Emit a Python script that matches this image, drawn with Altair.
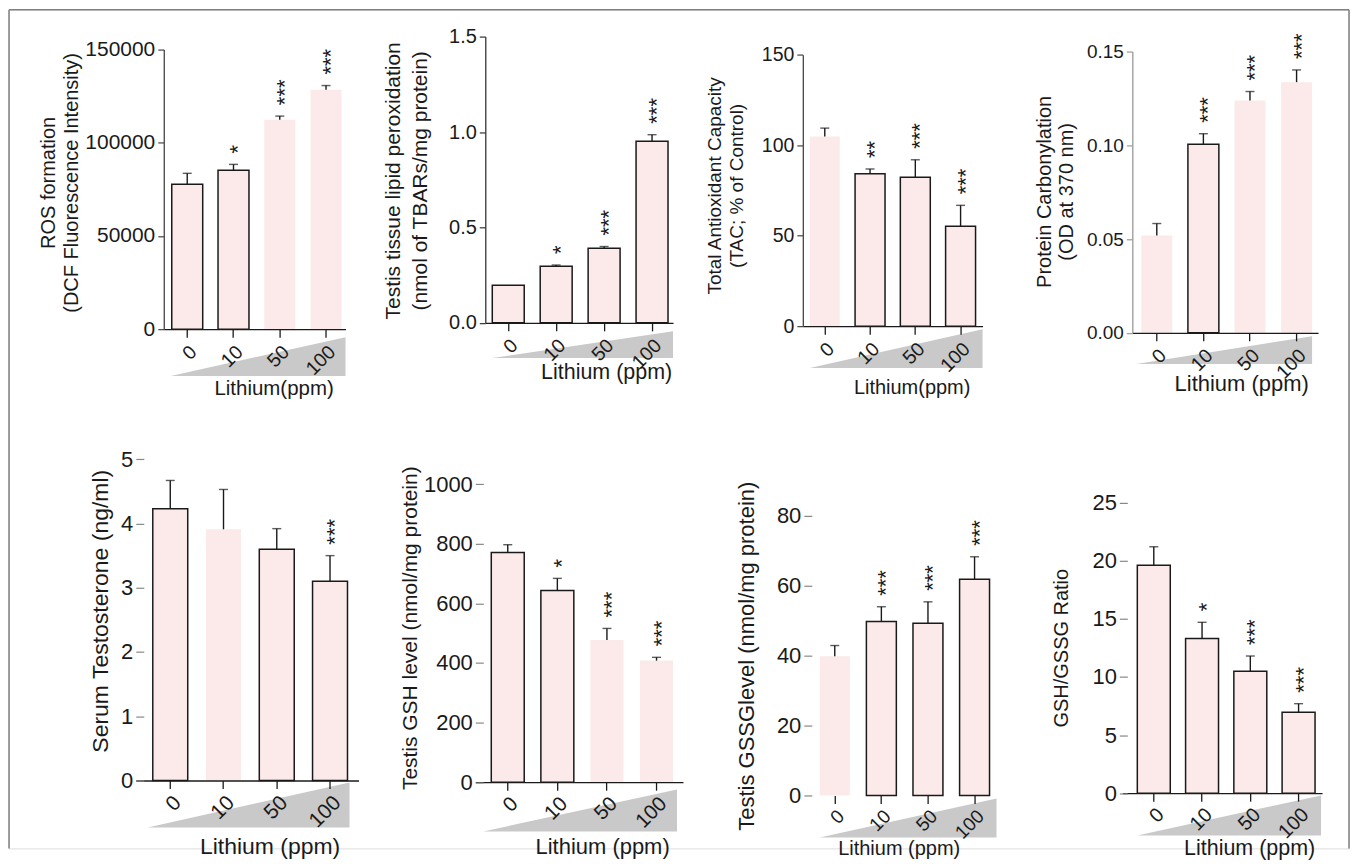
import altair as alt
import pandas as pd

# ---------------- data ----------------
DOSES = ["0", "10", "50", "100"]

ros_mean = [77800, 85200, 112300, 128400]
ros_sem = [5800, 3200, 2000, 2300]
ros_sig = ["", "*", "***", "***"]
ros_edge = [True, True, False, False]

lpo_mean = [0.197, 0.297, 0.391, 0.951]
lpo_sem = [0.0, 0.006, 0.009, 0.035]
lpo_sig = ["", "*", "***", "***"]
lpo_edge = [True, True, True, True]

tac_mean = [104.9, 84.3, 82.3, 55.2]
tac_sem = [4.6, 2.6, 9.7, 11.6]
tac_sig = ["", "**", "***", "***"]
tac_edge = [False, True, True, True]

pc_mean = [0.0519, 0.1006, 0.1239, 0.1337]
pc_sem = [0.0064, 0.0056, 0.0048, 0.0065]
pc_sig = ["", "***", "***", "***"]
pc_edge = [False, True, False, False]

tes_mean = [4.23, 3.91, 3.60, 3.10]
tes_sem = [0.44, 0.62, 0.32, 0.40]
tes_sig = ["", "", "", "***"]
tes_edge = [True, False, True, True]

gsh_mean = [771, 643, 477, 408]
gsh_sem = [26, 41, 39, 11]
gsh_sig = ["", "*", "***", "***"]
gsh_edge = [True, True, False, False]

gssg_mean = [39.8, 49.8, 49.3, 61.9]
gssg_sem = [3.1, 4.2, 6.1, 6.4]
gssg_sig = ["", "***", "***", "***"]
gssg_edge = [False, True, True, True]

ratio_mean = [19.6, 13.3, 10.5, 6.96]
ratio_sem = [1.6, 1.4, 1.3, 0.74]
ratio_sig = ["", "*", "***", "***"]
ratio_edge = [True, True, True, True]

# ---------------- style / layout ----------------
PINK = "#fce9e9"
INK = "#1a1a1a"
WEDGE = "#c9c9c9"
FONT = "Liberation Sans"
W, H = 1342, 840
OX, OY = 8, 8

layouts = [
    dict(mean=ros_mean, sem=ros_sem, sig=ros_sig, edge=ros_edge,
         yax=163, xr=(163, 345), y0=328, yt=48, ymax=150000,
         ticks=[0, 50000, 100000, 150000], fmt="d",
         bars=(171, 341, 31), wedge=(170, 345, 336, 375),
         ytitle=["ROS formation", "(DCF Fluorescence Intensity)"], ytc=(48, 181), ytfs=20, tlh=23,
         xtitle="Lithium(ppm)", xtc=(273, 387), xtfs=20.5, lfs=21, xlfs=19.5, row=1, ydomcol="#444"),
    dict(mean=lpo_mean, sem=lpo_sem, sig=lpo_sig, edge=lpo_edge,
         yax=485, xr=(485, 673), y0=321.7, yt=35, ymax=1.5,
         ticks=[0, 0.5, 1.0, 1.5], fmt=".1f",
         bars=(492, 668, 32), wedge=(492, 673, 330, 357),
         ytitle=["Testis tissue lipid peroxidation", "(nmol of TBARs/mg protein)"], ytc=(393, 179), ytfs=21, tlh=27,
         xtitle="Lithium (ppm)", xtc=(606, 371), xtfs=21.5, lfs=20, xlfs=19.5, row=1, ydomcol="#333"),
    dict(mean=tac_mean, sem=tac_sem, sig=tac_sig, edge=tac_edge,
         yax=803, xr=(803, 983), y0=325, yt=53.3, ymax=150,
         ticks=[0, 50, 100, 150], fmt="d",
         bars=(810, 976, 30), wedge=(810, 983, 328, 367),
         ytitle=["Total Antioxidant Capacity", "(TAC; % of Control)"], ytc=(715, 184), ytfs=19, tlh=22,
         xtitle="Lithium(ppm)", xtc=(912, 386), xtfs=20, lfs=19.5, xlfs=19.5, row=1, ydomcol="#444"),
    dict(mean=pc_mean, sem=pc_sem, sig=pc_sig, edge=pc_edge,
         yax=1133, xr=(1133, 1319), y0=331.7, yt=50, ymax=0.15,
         ticks=[0, 0.05, 0.10, 0.15], fmt=".2f",
         bars=(1142, 1313, 31), wedge=(1137, 1313, 335, 363),
         ytitle=["Protein Carbonylation", "(OD at 370 nm)"], ytc=(1045, 190), ytfs=20, tlh=22,
         xtitle="Lithium (ppm)", xtc=(1242, 382), xtfs=22, lfs=19, xlfs=19.5, row=1, ydomcol="#999"),
    dict(mean=tes_mean, sem=tes_sem, sig=tes_sig, edge=tes_edge,
         yax=143, xr=(135, 358), y0=780, yt=458.3, ymax=5,
         ticks=[0, 1, 2, 3, 4, 5], fmt="d",
         bars=(152, 347, 35), wedge=(147, 349, 782, 827),
         ytitle="Serum Testosterone (ng/ml)", ytc=(100, 610), ytfs=23, tlh=24,
         xtitle="Lithium (ppm)", xtc=(269, 846), xtfs=23, lfs=22, xlfs=21, row=2, ydomcol="#888"),
    dict(mean=gsh_mean, sem=gsh_sem, sig=gsh_sig, edge=gsh_edge,
         yax=483, xr=(475, 683), y0=781.7, yt=483.3, ymax=1000,
         ticks=[0, 200, 400, 600, 800, 1000], fmt="d",
         bars=(491, 673, 33), wedge=(483, 677, 789, 831),
         ytitle="Testis GSH level (nmol/mg protein)", ytc=(410, 627), ytfs=21, tlh=24,
         xtitle="Lithium (ppm)", xtc=(602, 846), xtfs=22, lfs=22, xlfs=20.5, row=2, ydomcol="#888"),
    dict(mean=gssg_mean, sem=gssg_sem, sig=gssg_sig, edge=gssg_edge,
         yax=812, xr=(812, 990), y0=795, yt=515, ymax=80,
         ticks=[0, 20, 40, 60, 80], fmt="d",
         bars=(820, 990, 30), wedge=(820, 997, 798, 837),
         ytitle="Testis GSSGlevel (nmol/mg protein)", ytc=(747, 655), ytfs=22, tlh=24,
         xtitle="Lithium (ppm)", xtc=(899, 848), xtfs=20, lfs=22, xlfs=19, row=2, ydomcol="#888",
         nodomain=True),
    dict(mean=ratio_mean, sem=ratio_sem, sig=ratio_sig, edge=ratio_edge,
         yax=1128, xr=(1123, 1323), y0=792.7, yt=501.7, ymax=25,
         ticks=[0, 5, 10, 15, 20, 25], fmt="d",
         bars=(1138, 1316, 33), wedge=(1138, 1322, 795, 835),
         ytitle="GSH/GSSG Ratio", ytc=(1062, 647), ytfs=20, tlh=24,
         xtitle="Lithium (ppm)", xtc=(1250, 848), xtfs=21.5, lfs=22, xlfs=20, row=2, ydomcol="#888"),
]


def one_row():
    return pd.DataFrame({"k": [0]})


def panel(lay):
    df = pd.DataFrame({
        "dose": DOSES,
        "mean": lay["mean"],
        "top": [m + s for m, s in zip(lay["mean"], lay["sem"])],
        "sig": lay["sig"],
        "edge": [INK if e else "transparent" for e in lay["edge"]],
    })
    xl, xr = lay["xr"]
    b0, b3, bw = lay["bars"]
    step = (b3 - b0 - bw) / 3.0
    p_in = 1 - bw / step
    lgap, rgap = b0 - xl, xr - b3
    rest = max(lgap + rgap, 0.01)
    p_out = rest / (2 * step)
    align = min(max(lgap / rest, 0), 1)

    xscale = alt.Scale(type="band", domain=DOSES, range=[xl - OX, xr - OX],
                       paddingInner=p_in, paddingOuter=p_out, align=align)
    yscale = alt.Scale(domain=[0, lay["ymax"]], range=[lay["y0"] - OY, lay["yt"] - OY],
                       nice=False, zero=True)
    row1 = lay["row"] == 1
    xaxis = alt.Axis(orient="bottom", offset=(lay["y0"] - OY) - H, title=lay["xtitle"],
                     titleX=lay["xtc"][0] - OX, titleY=lay["xtc"][1] - lay["y0"],
                     titleAlign="center", titleBaseline="middle", titleFontSize=lay["xtfs"],
                     titleFontWeight="normal", titleColor=INK, titleFont=FONT,
                     labelAngle=315, labelAlign="right", labelBaseline="top",
                     labelFontSize=lay["xlfs"], labelFont=FONT, labelColor=INK,
                     labelPadding=5 if row1 else 3,
                     labelOverlap=False, tickSize=8, tickColor=INK, tickWidth=1.3,
                     domain=not lay.get("nodomain", False), domainColor=INK, domainWidth=1.3,
                     grid=False, zindex=1)
    yaxis = alt.Axis(orient="left", offset=-(lay["yax"] - OX), values=lay["ticks"],
                     format=lay["fmt"], title=lay["ytitle"],
                     titleX=lay["ytc"][0] - lay["yax"], titleY=lay["ytc"][1] - OY,
                     titleAngle=270, titleAlign="center", titleBaseline="middle",
                     titleLineHeight=lay["tlh"],
                     titleFontSize=lay["ytfs"], titleFontWeight="normal", titleColor=INK,
                     titleFont=FONT, labelFontSize=lay["lfs"], labelFont=FONT, labelColor=INK,
                     labelPadding=3, tickSize=6 if row1 else 8,
                     tickColor=lay["ydomcol"], tickWidth=1.2,
                     domain=row1, domainColor=lay["ydomcol"], domainWidth=1.3,
                     grid=False, zindex=1, labelOverlap=False)

    wx1, wx2, wy1, wy2 = lay["wedge"]
    ww = wx2 - wx1
    hh = (wy2 - wy1) / ww
    path = f"M -1 {hh:.4f} L 1 {hh:.4f} L 1 {-hh:.4f} Z"
    wedge = alt.Chart(one_row()).mark_point(
        shape=path, size=ww * ww, filled=True, fill=WEDGE, fillOpacity=1, opacity=1,
        strokeWidth=0
    ).encode(x=alt.value((wx1 + wx2) / 2 - OX), y=alt.value((wy1 + wy2) / 2 - OY))

    base = alt.Chart(df)
    bars = base.mark_bar(fill=PINK, strokeWidth=1.5).encode(
        x=alt.X("dose:N", scale=xscale, axis=xaxis, sort=DOSES),
        y=alt.Y("mean:Q", scale=yscale, axis=yaxis),
        stroke=alt.Stroke("edge:N", scale=None),
    )
    err = base.transform_filter("datum.top > datum.mean").mark_rule(
        color=INK, strokeWidth=1.4).encode(
        x=alt.X("dose:N", sort=DOSES), y="mean:Q", y2="top:Q")
    cap = base.transform_filter("datum.top > datum.mean").mark_tick(
        orient="horizontal", size=9, thickness=1.4, color=INK).encode(
        x=alt.X("dose:N", sort=DOSES), y="top:Q")
    stars = base.mark_text(angle=270, align="left", baseline="middle", dx=11, dy=5,
                           fontSize=22, font=FONT, color=INK).encode(
        x=alt.X("dose:N", sort=DOSES), y="top:Q", text="sig:N")
    return alt.layer(wedge, bars, err, cap, stars)


FRAME = "#808080"
frame_left = alt.Chart(one_row()).mark_rule(color=FRAME, strokeWidth=1.5).encode(
    x=alt.value(0), y=alt.value(0), y2=alt.value(H))
frame_right = alt.Chart(one_row()).mark_rule(color=FRAME, strokeWidth=1.5).encode(
    x=alt.value(W), y=alt.value(0), y2=alt.value(H))
frame_top = alt.Chart(one_row()).mark_rule(color=FRAME, strokeWidth=1.5).encode(
    x=alt.value(0), x2=alt.value(W), y=alt.value(0))

chart = alt.layer(
    frame_left, frame_right, frame_top, *[panel(l) for l in layouts]
).resolve_scale(x="independent", y="independent").properties(
    width=W, height=H, padding=0
).configure_view(stroke=None).configure(font=FONT)

chart.save("out.html", embed_options={"renderer": "svg", "actions": False})
